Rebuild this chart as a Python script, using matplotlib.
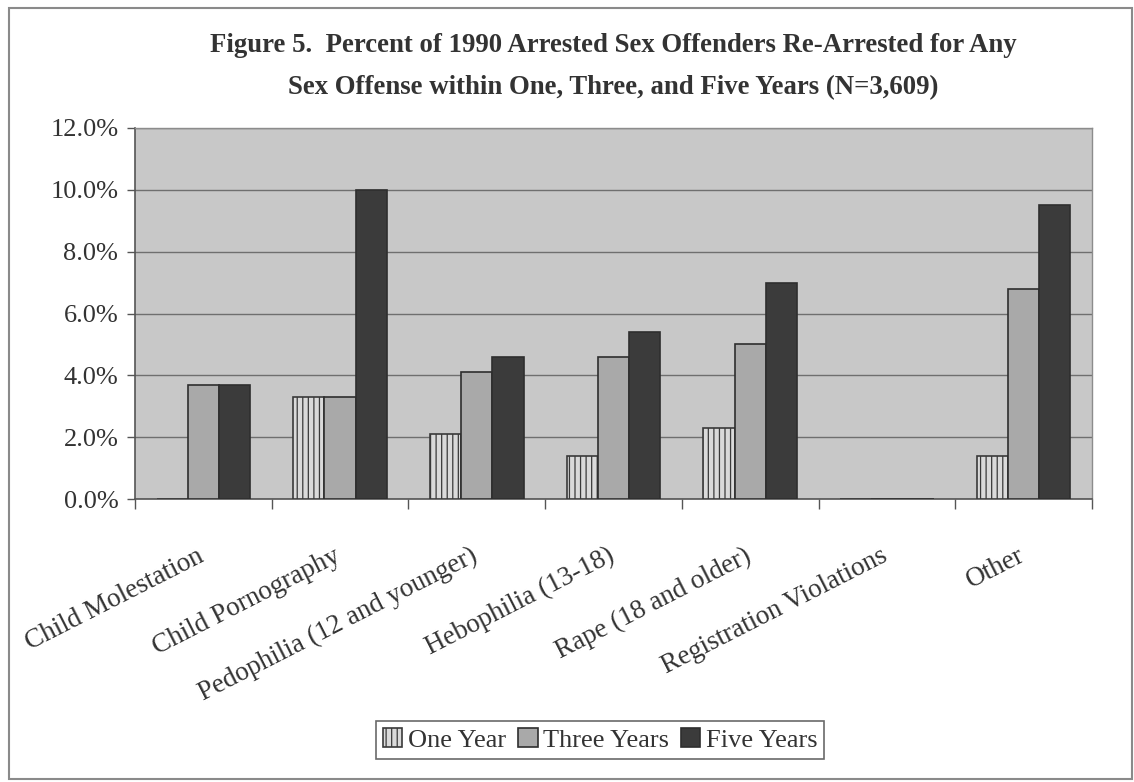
import matplotlib
matplotlib.use("Agg")
import matplotlib.pyplot as plt
from matplotlib.patches import Rectangle
from matplotlib.ticker import FuncFormatter, FixedLocator
import numpy as np

categories = [
    "Child Molestation",
    "Child Pornography",
    "Pedophilia (12 and younger)",
    "Hebophilia (13-18)",
    "Rape (18 and older)",
    "Registration Violations",
    "Other",
]
one_year = [0.0, 3.3, 2.1, 1.4, 2.3, 0.0, 1.4]
three_years = [3.7, 3.3, 4.1, 4.6, 5.0, 0.0, 6.8]
five_years = [3.7, 10.0, 4.6, 5.4, 7.0, 0.0, 9.5]
series_names = ["One Year", "Three Years", "Five Years"]

title_line1 = "Figure 5.  Percent of 1990 Arrested Sex Offenders Re-Arrested for Any"
title_line2 = "Sex Offense within One, Three, and Five Years (N=3,609)"

W, H, DPI = 1134, 782, 100
plt.rcParams["font.family"] = ["Liberation Serif", "DejaVu Serif"]
plt.rcParams["hatch.linewidth"] = 0.9

fig = plt.figure(figsize=(W / DPI, H / DPI), dpi=DPI)
fig.patch.set_facecolor("white")

# plot area in pixel coordinates
px_l, px_r, px_t, px_b = 135, 1092, 128, 499
ax = fig.add_axes([px_l / W, 1 - px_b / H, (px_r - px_l) / W, (px_b - px_t) / H])
ax.set_facecolor("#c8c8c8")

x = np.arange(len(categories))
bw = 0.228
edge = "#2e2e2e"
ax.bar(x - bw, one_year, bw, color="#dadada", edgecolor="#3a3a3a", linewidth=1.2,
       hatch="|||", label=series_names[0], zorder=3)
ax.bar(x, three_years, bw, color="#a9a9a9", edgecolor=edge, linewidth=1.2,
       label=series_names[1], zorder=3)
ax.bar(x + bw, five_years, bw, color="#3b3b3b", edgecolor=edge, linewidth=1.2,
       label=series_names[2], zorder=3)

ax.set_xlim(-0.5, len(categories) - 0.5)
ax.set_ylim(0, 12)
ax.set_yticks(np.arange(0, 12.01, 2))
ax.yaxis.set_major_formatter(FuncFormatter(lambda v, p: f"{v:.1f}%"))
ax.yaxis.grid(True, color="#6f6f6f", linewidth=1.0, zorder=1)
ax.set_axisbelow(True)
ax.tick_params(axis="y", direction="out", length=6, width=1, color="#555555",
               labelsize=19, labelcolor="#333333", pad=6)

ax.set_xticks(x)
ax.set_xticklabels(categories, rotation=27, ha="right", va="center",
                   rotation_mode="anchor", fontsize=19.5, color="#333333")
ax.tick_params(axis="x", which="major", length=0, pad=40)
ax.xaxis.set_minor_locator(FixedLocator(np.arange(-0.5, len(categories), 1.0)))
ax.tick_params(axis="x", which="minor", direction="out", length=7, width=1,
               color="#555555")
offset = matplotlib.transforms.ScaledTranslation(-1 / DPI, 0, fig.dpi_scale_trans)
for lbl in ax.get_xticklabels():
    lbl.set_transform(lbl.get_transform() + offset)

for side in ["top", "right"]:
    ax.spines[side].set_color("#8c8c8c")
    ax.spines[side].set_linewidth(1.0)
for side in ["left", "bottom"]:
    ax.spines[side].set_color("#555555")
    ax.spines[side].set_linewidth(1.2)

fig.text(613 / W, 1 - 45 / H, title_line1, ha="center", va="center",
         fontsize=19.3, fontweight="bold", color="#333333")
fig.text(613 / W, 1 - 88 / H, title_line2, ha="center", va="center",
         fontsize=19.3, fontweight="bold", color="#333333")

leg = fig.legend(loc="center", bbox_to_anchor=(600 / W, 1 - 740 / H), ncol=3,
                 fontsize=19, frameon=True, fancybox=False, handlelength=0.75,
                 handleheight=0.75, handletextpad=0.2, columnspacing=0.45,
                 borderpad=0.25, labelcolor="#333333")
leg.get_frame().set_edgecolor("#444444")
leg.get_frame().set_linewidth(1.2)

fig.patches.append(Rectangle((9 / W, 1 - 779 / H), (1132 - 9) / W, (779 - 8) / H,
                             transform=fig.transFigure, fill=False,
                             edgecolor="#8a8a8a", linewidth=1.5))

fig.savefig("out.png", dpi=DPI, facecolor="white")
